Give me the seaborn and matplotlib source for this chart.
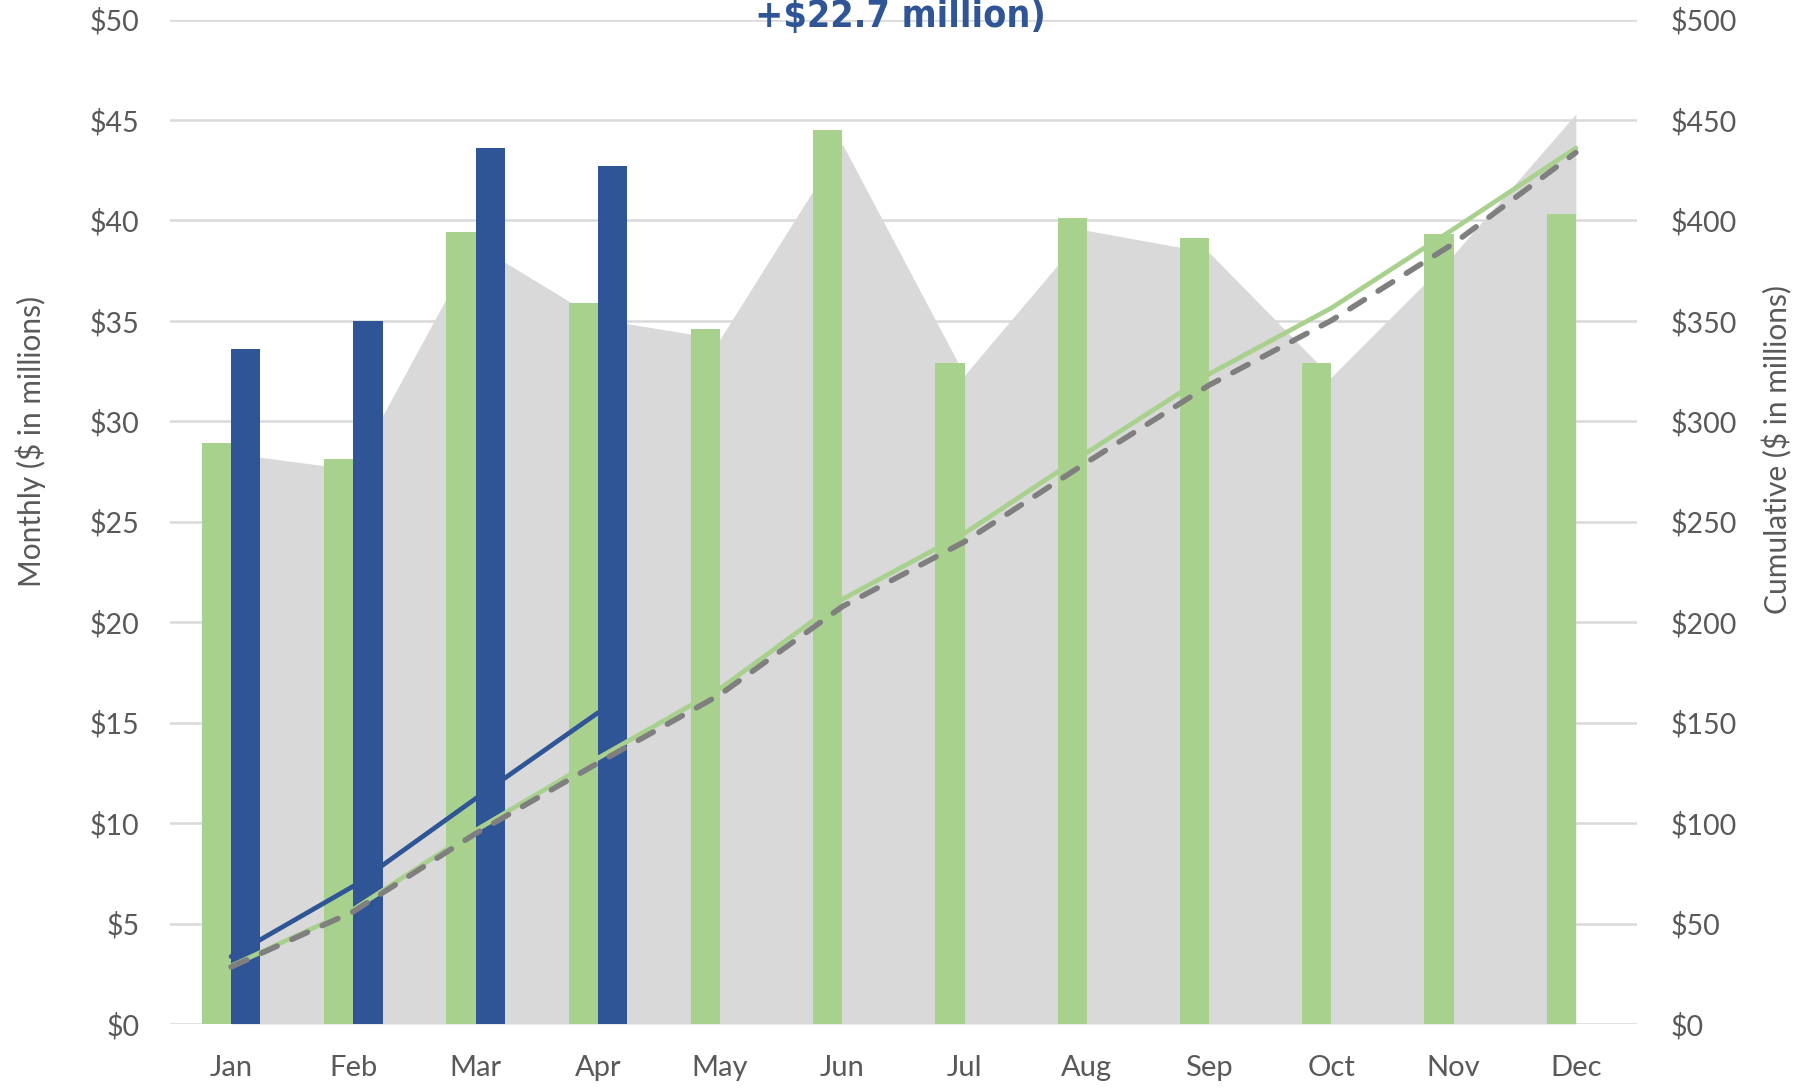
import numpy as np
import pandas as pd
import matplotlib
matplotlib.use("Agg")
import matplotlib.pyplot as plt
import seaborn as sns

# ---- data ----
months = ["Jan", "Feb", "Mar", "Apr", "May", "Jun", "Jul", "Aug", "Sep", "Oct", "Nov", "Dec"]
green_monthly = [28.9, 28.1, 39.4, 35.9, 34.6, 44.5, 32.9, 40.1, 39.1, 32.9, 39.3, 40.3]
blue_monthly = [33.6, 35.0, 43.6, 42.7]
grey_monthly = [28.4, 27.6, 38.8, 35.1, 34.1, 43.8, 32.3, 39.5, 38.4, 32.2, 38.3, 45.3]
green_cum = [28.9, 57.0, 96.4, 132.3, 166.9, 211.4, 244.3, 284.4, 323.5, 356.4, 395.7, 436.0]
blue_cum = [33.6, 68.6, 112.2, 154.9]
grey_cum = [28.4, 56.0, 94.8, 129.9, 164.0, 207.8, 240.1, 279.6, 318.0, 350.2, 388.5, 433.8]
left_ticks = [0, 5, 10, 15, 20, 25, 30, 35, 40, 45, 50]
right_ticks = [0, 50, 100, 150, 200, 250, 300, 350, 400, 450, 500]
title_text = "+\\$22.7 million)"
left_label = "Monthly (\\$ in millions)"
right_label = "Cumulative (\\$ in millions)"

GREEN = "#A9D18E"
BLUE = "#2F5597"
AREA = "#D9D9D9"
DASH = "#7F7F7F"
TXT = "#595959"
GRID = "#D9D9D9"

sns.set_theme(style="white")
plt.rcParams["font.family"] = ["Lato", "DejaVu Sans"]

W, H = 1798, 1088
fig = plt.figure(figsize=(W / 100, H / 100), dpi=100)
ax = fig.add_axes([170 / W, 1 - 1024 / H, (1637 - 170) / W, (1024 - 19.5) / H])

df = pd.DataFrame({
    "month": months + months[:len(blue_monthly)],
    "value": green_monthly + blue_monthly,
    "series": ["green"] * len(months) + ["blue"] * len(blue_monthly),
})

x = np.arange(len(months))
ax.fill_between(x, grey_monthly, 0, color=AREA, linewidth=0, zorder=0.8)

sns.barplot(data=df, x="month", y="value", hue="series", order=months,
            hue_order=["green", "blue"], palette={"green": GREEN, "blue": BLUE},
            width=0.48, dodge=True, errorbar=None, saturation=1, legend=False,
            ax=ax, zorder=2, linewidth=0)

ax.set_xlim(-0.5, len(months) - 0.5)
ax.set_ylim(0, 50)
ax.set_yticks(left_ticks)
ax.set_yticklabels([f"\\${v}" for v in left_ticks])
ax.set_axisbelow(True)
ax.grid(axis="y", color=GRID, linewidth=1.8)
ax.grid(axis="x", visible=False)
for s in ax.spines.values():
    s.set_visible(False)
ax.set_xlabel("")
ax.set_ylabel("")
ax.tick_params(axis="y", length=0, pad=22, labelsize=20.5, labelcolor=TXT)
ax.tick_params(axis="x", length=0, pad=22.5, labelsize=21, labelcolor=TXT)

ax2 = ax.twinx()
sns.lineplot(x=x, y=green_cum, ax=ax2, color=GREEN, linewidth=3.4)
sns.lineplot(x=x, y=grey_cum, ax=ax2, color=DASH, linewidth=4.0,
             linestyle=(0, (3.1, 2.9)), dash_capstyle="round")
sns.lineplot(x=x[:len(blue_cum)], y=blue_cum, ax=ax2, color=BLUE, linewidth=3.4)
ax2.set_ylim(0, 500)
ax2.set_yticks(right_ticks)
ax2.set_yticklabels([f"\\${v}" for v in right_ticks])
ax2.grid(False)
for s in ax2.spines.values():
    s.set_visible(False)
ax2.tick_params(axis="y", length=0, pad=24, labelsize=20.5, labelcolor=TXT)
ax2.set_xlim(-0.5, len(months) - 0.5)

fig.text(31 / W, 1 - 441 / H, left_label, rotation=90, ha="center", va="center",
         fontsize=21.5, color=TXT)
fig.text(1777 / W, 1 - 450 / H, right_label, rotation=90, ha="center", va="center",
         fontsize=21.5, color=TXT)

fig.text(900 / W, 1 - 27 / H, title_text, ha="center", va="baseline",
         fontsize=27, fontweight="bold", fontstretch="condensed", color=BLUE,
         family=["DejaVu Sans", "Roboto"])

fig.savefig("out.png", dpi=100, facecolor="white")
